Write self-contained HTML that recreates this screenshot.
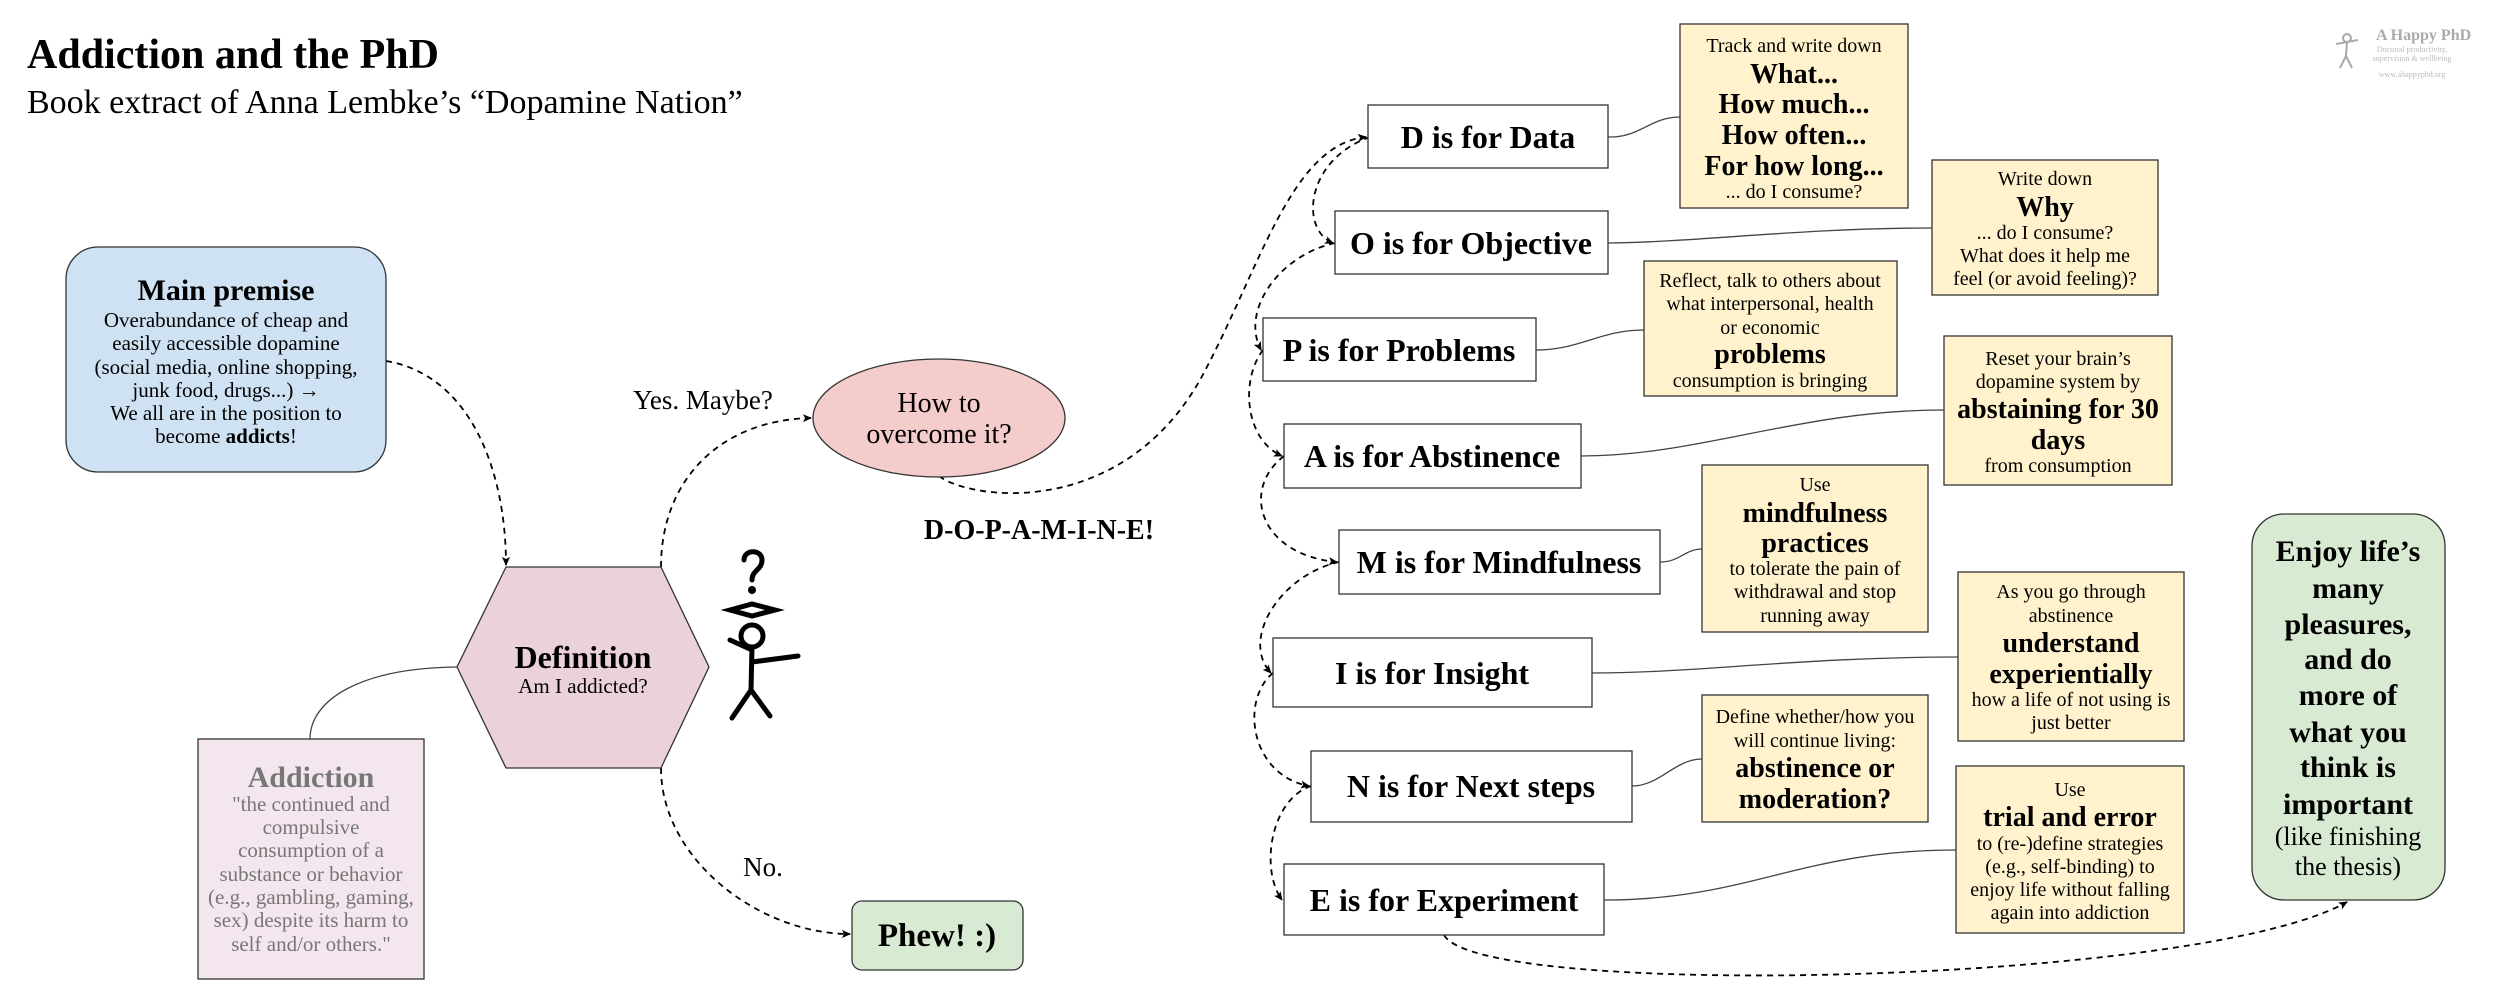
<!DOCTYPE html>
<html><head><meta charset="utf-8"><style>
html,body{margin:0;padding:0;background:#fff;}
svg{display:block;font-family:"Liberation Serif",serif;}
.b{font-weight:bold;}
</style></head><body>
<svg width="2500" height="1007" viewBox="0 0 2500 1007" xmlns="http://www.w3.org/2000/svg">
<defs>
<marker id="ar" markerWidth="10" markerHeight="10" refX="8" refY="5" orient="auto" markerUnits="userSpaceOnUse">
<path d="M0,1 L9,5 L0,9 L2,5 Z" fill="#000"/></marker>
</defs>
<text x="27" y="68" font-size="42" class="b">Addiction and the PhD</text>
<text x="27" y="113" font-size="34">Book extract of Anna Lembke’s “Dopamine Nation”</text>

<!-- logo -->
<text x="2376" y="40" font-size="16" class="b" fill="#aaa">A Happy PhD</text>
<g font-size="8" text-anchor="middle" fill="#bbb">
<text x="2412" y="52">Doctoral productivity,</text>
<text x="2412" y="61">supervision &amp; wellbeing</text>
<text x="2412" y="77">www.ahappyphd.org</text>
</g>
<g stroke="#aaa" stroke-width="2" fill="none"><circle cx="2347" cy="38" r="4"/><path d="M2347 42 L2346 56 L2340 68 M2346 56 L2352 68 M2336 44 L2358 40"/></g>

<!-- dashed connectors -->
<g fill="none" stroke="#000" stroke-width="1.8" stroke-dasharray="6,5">
<path d="M386 361 C470 375 506 470 506 565" marker-end="url(#ar)"/>
<path d="M661 567 C661 480 720 420 811 418" marker-end="url(#ar)"/>
<path d="M661 768 C661 860 760 934 850 934" marker-end="url(#ar)"/>
<path d="M939 476 C970 500 1120 520 1200 380 C1260 270 1290 145 1366 137" marker-end="url(#ar)"/>
<path d="M1370 137 C1305 160 1300 230 1333 243" marker-end="url(#ar)"/>
<path d="M1335 243 C1280 255 1240 310 1261 350" marker-end="url(#ar)"/>
<path d="M1263 350 C1240 380 1245 440 1282 456" marker-end="url(#ar)"/>
<path d="M1284 456 C1240 490 1260 555 1337 562" marker-end="url(#ar)"/>
<path d="M1339 562 C1280 575 1240 640 1271 673" marker-end="url(#ar)"/>
<path d="M1273 673 C1240 700 1250 775 1309 786" marker-end="url(#ar)"/>
<path d="M1311 786 C1270 800 1260 870 1282 900" marker-end="url(#ar)"/>
<path d="M1444 935 C1480 1000 2200 985 2347 902" marker-end="url(#ar)"/>
</g>
<g fill="none" stroke="#444" stroke-width="1.3">
<path d="M457 667 C360 668 310 700 310 739"/>
<path d="M1608 137 C1640 138 1650 117 1680 117"/>
<path d="M1608 243 C1700 242 1800 228 1932 228"/>
<path d="M1536 350 C1580 350 1600 330 1644 330"/>
<path d="M1581 456 C1700 456 1800 410 1944 410"/>
<path d="M1660 562 C1680 562 1685 549 1702 549"/>
<path d="M1592 673 C1700 673 1800 657 1958 657"/>
<path d="M1632 786 C1660 786 1675 759 1702 759"/>
<path d="M1604 900 C1750 900 1800 850 1956 850"/>
</g>

<!-- main premise -->
<rect x="66" y="247" width="320" height="225" rx="32" fill="#cfe2f3" stroke="#333" stroke-width="1.3"/>
<g text-anchor="middle" font-size="21">
<text x="226" y="300" font-size="30" class="b">Main premise</text>
<text x="226" y="327">Overabundance of cheap and</text>
<text x="226" y="350">easily accessible dopamine</text>
<text x="226" y="374">(social media, online shopping,</text>
<text x="226" y="397">junk food, drugs...)  →</text>
<text x="226" y="420">We all are in the position to</text>
<text x="226" y="443">become <tspan class="b">addicts</tspan>!</text>
</g>

<!-- hexagon -->
<polygon points="506,567 661,567 709,667 661,768 506,768 457,667" fill="#ead1dc" stroke="#333" stroke-width="1.3"/>
<text x="583" y="668" font-size="32" class="b" text-anchor="middle">Definition</text>
<text x="583" y="693" font-size="21" text-anchor="middle">Am I addicted?</text>

<!-- addiction -->
<rect x="198" y="739" width="226" height="240" fill="#f3e6ee" stroke="#333" stroke-width="1.3"/>
<g text-anchor="middle" font-size="21" fill="#777">
<text x="311" y="787" font-size="30" class="b">Addiction</text>
<text x="311" y="811">"the continued and</text>
<text x="311" y="834">compulsive</text>
<text x="311" y="857">consumption of a</text>
<text x="311" y="881">substance or behavior</text>
<text x="311" y="904">(e.g., gambling, gaming,</text>
<text x="311" y="927">sex) despite its harm to</text>
<text x="311" y="951">self and/or others."</text>
</g>

<text x="703" y="409" font-size="27" text-anchor="middle">Yes. Maybe?</text>
<text x="763" y="876" font-size="27" text-anchor="middle">No.</text>

<ellipse cx="939" cy="418" rx="126" ry="59" fill="#f4cccc" stroke="#333" stroke-width="1.3"/>
<text x="939" y="412" font-size="28" text-anchor="middle">How to</text>
<text x="939" y="443" font-size="28" text-anchor="middle">overcome it?</text>

<rect x="852" y="901" width="171" height="69" rx="10" fill="#d9ead3" stroke="#333" stroke-width="1.3"/>
<text x="937" y="946" font-size="33" class="b" text-anchor="middle">Phew! :)</text>

<text x="1039" y="539" font-size="28" class="b" text-anchor="middle">D-O-P-A-M-I-N-E!</text>

<!-- stick figure -->
<g stroke="#000" stroke-width="5" fill="none" stroke-linecap="round">
<path d="M744 560 C744 549 762 549 762 560 C762 570 752 570 752 580"/>
<path d="M730 610 L752 604 L775 610 L752 616 Z"/>
<circle cx="752" cy="636" r="11"/>
<path d="M752 647 L751 690 M752 662 L798 656 M751 690 L732 718 M751 690 L770 716 M752 650 L730 640"/>
</g>
<circle cx="752" cy="590" r="4" fill="#000"/>

<!-- letter boxes -->
<g fill="#fff" stroke="#333" stroke-width="1.3">
<rect x="1368" y="105" width="240" height="63"/>
<rect x="1335" y="211" width="273" height="63"/>
<rect x="1263" y="318" width="273" height="63"/>
<rect x="1284" y="424" width="297" height="64"/>
<rect x="1339" y="530" width="321" height="64"/>
<rect x="1273" y="638" width="319" height="69"/>
<rect x="1311" y="751" width="321" height="71"/>
<rect x="1284" y="864" width="320" height="71"/>
</g>
<g font-size="32" class="b" text-anchor="middle">
<text x="1488" y="148">D is for Data</text>
<text x="1471" y="254">O is for Objective</text>
<text x="1399" y="361">P is for Problems</text>
<text x="1432" y="467">A is for Abstinence</text>
<text x="1499" y="573">M is for Mindfulness</text>
<text x="1432" y="684">I is for Insight</text>
<text x="1471" y="797">N is for Next steps</text>
<text x="1444" y="911">E is for Experiment</text>
</g>

<!-- yellow boxes -->
<g fill="#fff2cc" stroke="#333" stroke-width="1.3">
<rect x="1680" y="24" width="228" height="184"/>
<rect x="1932" y="160" width="226" height="135"/>
<rect x="1644" y="261" width="253" height="135"/>
<rect x="1944" y="336" width="228" height="149"/>
<rect x="1702" y="465" width="226" height="167"/>
<rect x="1958" y="572" width="226" height="169"/>
<rect x="1702" y="695" width="226" height="127"/>
<rect x="1956" y="766" width="228" height="167"/>
</g>
<g text-anchor="middle" font-size="20">
<text x="1794" y="52">Track and write down</text>
<text x="1794" y="83" font-size="28" class="b">What...</text>
<text x="1794" y="113" font-size="28" class="b">How much...</text>
<text x="1794" y="144" font-size="28" class="b">How often...</text>
<text x="1794" y="175" font-size="28" class="b">For how long...</text>
<text x="1794" y="198">... do I consume?</text>

<text x="2045" y="185">Write down</text>
<text x="2045" y="216" font-size="28" class="b">Why</text>
<text x="2045" y="239">... do I consume?</text>
<text x="2045" y="262">What does it help me</text>
<text x="2045" y="285">feel (or avoid feeling)?</text>

<text x="1770" y="287">Reflect, talk to others about</text>
<text x="1770" y="310">what interpersonal, health</text>
<text x="1770" y="334">or economic</text>
<text x="1770" y="363" font-size="28" class="b">problems</text>
<text x="1770" y="387">consumption is bringing</text>

<text x="2058" y="365">Reset your brain’s</text>
<text x="2058" y="388">dopamine system by</text>
<text x="2058" y="418" font-size="28" class="b">abstaining for 30</text>
<text x="2058" y="449" font-size="28" class="b">days</text>
<text x="2058" y="472">from consumption</text>

<text x="1815" y="491">Use</text>
<text x="1815" y="522" font-size="28" class="b">mindfulness</text>
<text x="1815" y="552" font-size="28" class="b">practices</text>
<text x="1815" y="575">to tolerate the pain of</text>
<text x="1815" y="598">withdrawal and stop</text>
<text x="1815" y="622">running away</text>

<text x="2071" y="598">As you go through</text>
<text x="2071" y="622">abstinence</text>
<text x="2071" y="652" font-size="28" class="b">understand</text>
<text x="2071" y="683" font-size="28" class="b">experientially</text>
<text x="2071" y="706">how a life of not using is</text>
<text x="2071" y="729">just better</text>

<text x="1815" y="723">Define whether/how you</text>
<text x="1815" y="747">will continue living:</text>
<text x="1815" y="777" font-size="28" class="b">abstinence or</text>
<text x="1815" y="808" font-size="28" class="b">moderation?</text>

<text x="2070" y="796">Use</text>
<text x="2070" y="826" font-size="28" class="b">trial and error</text>
<text x="2070" y="850">to (re-)define strategies</text>
<text x="2070" y="873">(e.g., self-binding)  to</text>
<text x="2070" y="896">enjoy life without falling</text>
<text x="2070" y="919">again into addiction</text>
</g>

<!-- green final -->
<rect x="2252" y="514" width="193" height="386" rx="32" fill="#d9ead3" stroke="#333" stroke-width="1.3"/>
<g text-anchor="middle" font-size="30" class="b">
<text x="2348" y="561">Enjoy life’s</text>
<text x="2348" y="598">many</text>
<text x="2348" y="634">pleasures,</text>
<text x="2348" y="669">and do</text>
<text x="2348" y="705">more of</text>
<text x="2348" y="742">what you</text>
<text x="2348" y="777">think is</text>
<text x="2348" y="814">important</text>
<text x="2348" y="845" font-size="26" font-weight="normal">(like finishing</text>
<text x="2348" y="875" font-size="26" font-weight="normal">the thesis)</text>
</g>
</svg>
</body></html>
